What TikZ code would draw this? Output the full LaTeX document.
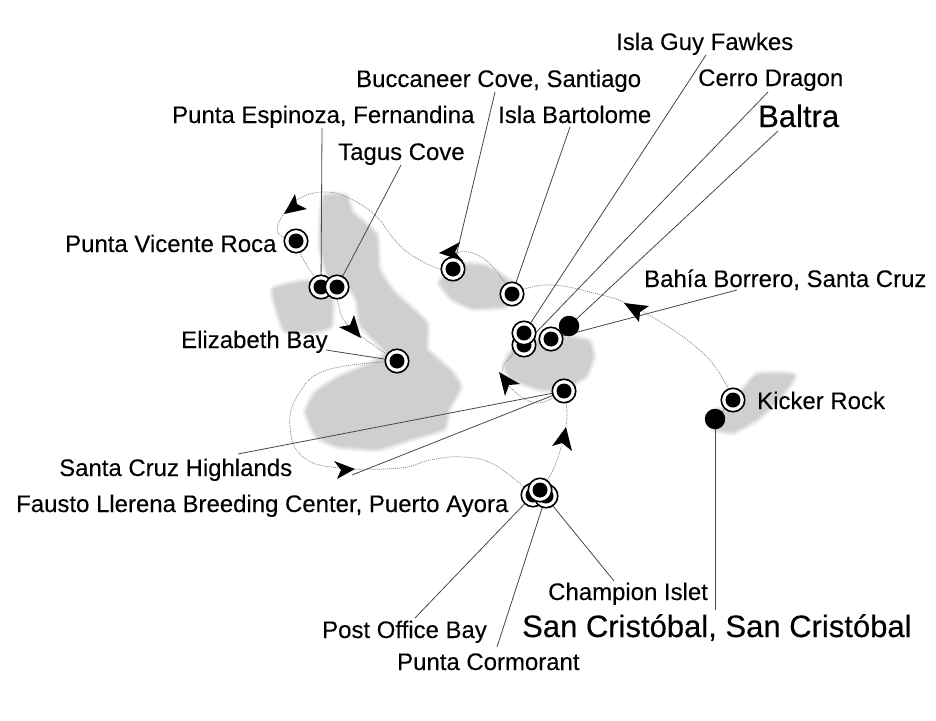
\documentclass[tikz,border=0pt]{standalone}
\usepackage{fontspec}
\setmainfont{Liberation Sans}
\newfontfamily\bigface[FakeBold=0.25]{Liberation Sans}
\newfontfamily\labface[FakeBold=0.08]{Liberation Sans}
\tikzset{
  x=1pt,y=-1pt,
  lab/.style={inner sep=0pt,font=\labface\fontsize{23.95}{26}\selectfont,text=black},
  biglab/.style={inner sep=0pt,font=\bigface\fontsize{31}{33}\selectfont,text=black},
  leader/.style={line width=0.8pt,draw=black!72},
  route/.style={line width=0.7pt,draw=black!50,dash pattern=on 1pt off 1pt},
  ring/.style={circle,draw=black,fill=white,line width=1.6pt,minimum size=23.5pt,inner sep=0pt},
  blackdot/.style={circle,fill=black,minimum size=15pt,inner sep=0pt},
  portdot/.style={circle,fill=black,minimum size=20.5pt,inner sep=0pt},
  headtip/.style={fill=black,draw=none},
}
\definecolor{isl}{HTML}{CFCFCF}
\newcommand{\island}[1]{%
  \foreach \w/\o in {10/.12,8/.18,6/.25,4/.35,2/.5}{%
    \draw[isl,line width=\w pt,opacity=\o,line join=round] plot[smooth cycle,tension=.25] coordinates {#1};}
  \fill[isl] plot[smooth cycle,tension=.25] coordinates {#1};}
\newcommand{\callstop}[3]{\node[ring] (#1) at (#2,#3) {}; \node[blackdot] at (#1) {};}
\begin{document}
\begin{tikzpicture}
\useasboundingbox (0,0) rectangle (936,720);
\fill[white] (0,0) rectangle (936,720);
% islands
\island{(325,197)(345,197)(352,214)(375,235)(378,270)(393,293)(425,323)(426,350)(450,372)(459,387)(447,410)(443,428)(410,438)(377,448)(337,445)(317,435)(307,412)(317,393)(340,378)(373,364)(387,352)(362,325)(358,300)(350,287)(330,277)(322,250)(322,220)}
\island{(274,290)(310,282)(330,287)(330,325)(310,331)(285,329)}
\island{(441,282)(460,265)(487,268)(512,285)(505,305)(473,307)(453,298)}
\island{(509,357)(520,345)(563,338)(588,342)(592,357)(585,375)(563,388)(540,388)(513,378)(506,367)}
\island{(715,412)(730,408)(757,376)(793,376)(779,397)(757,418)(733,431)(715,428)}
% labels
\node[lab,anchor=base west] (guy) at (616,50) {Isla Guy Fawkes};
\node[lab,anchor=base west] (buc) at (356,87) {Buccaneer Cove, Santiago};
\node[lab,anchor=base west] (cer) at (698,86) {Cerro Dragon};
\node[lab,anchor=base west] (bar) at (498,123) {Isla Bartolome};
\node[lab,anchor=base west] (esp) at (172,123) {Punta Espinoza, Fernandina};
\node[biglab,anchor=base west] (bal) at (758,127) {Baltra};
\node[lab,anchor=base west] (tag) at (338,160) {Tagus Cove};
\node[lab,anchor=base west] (vic) at (65,252) {Punta Vicente Roca};
\node[lab,anchor=base west] (bor) at (644,287) {Bahía Borrero, Santa Cruz};
\node[lab,anchor=base west] (eli) at (181,348) {Elizabeth Bay};
\node[lab,anchor=base west] (kic) at (757,409) {Kicker Rock};
\node[lab,anchor=base west] (hig) at (59,476) {Santa Cruz Highlands};
\node[lab,anchor=base west] (fau) at (16,512) {Fausto Llerena Breeding Center, Puerto Ayora};
\node[lab,anchor=base west] (cha) at (548,600) {Champion Islet};
\node[biglab,anchor=base west] (sanc) at (522,637) {San Cristóbal, San Cristóbal};
\node[lab,anchor=base west] (pos) at (322,638) {Post Office Bay};
\node[lab,anchor=base west] (cor) at (397,670) {Punta Cormorant};
% stop centres
\coordinate (mvic) at (296,241);
\coordinate (mesp) at (321,287);
\coordinate (mtag) at (337,287);
\coordinate (meli) at (397,361);
\coordinate (mbuc) at (453,269);
\coordinate (mbar) at (512,294);
\coordinate (mcer) at (524,345);
\coordinate (mguy) at (524,333);
\coordinate (mbor) at (551,339);
\coordinate (mbal) at (569,326);
\coordinate (mhig) at (564,391);
\coordinate (mkic) at (733,400);
\coordinate (msan) at (715,419);
\coordinate (mpos) at (533,495);
\coordinate (mcor) at (546,496);
\coordinate (mcha) at (540,490);
% free ends of leaders
\coordinate (lguy) at (706,55);
\coordinate (lbuc) at (495,92);
\coordinate (lcer) at (768,92);
\coordinate (lbar) at (570,127);
\coordinate (lesp) at (322,128);
\coordinate (lbal) at (778,131);
\coordinate (ltag) at (401,165);
\coordinate (lbor) at (737,290);
\coordinate (leli) at (326,350);
\coordinate (lhig) at (238,454);
\coordinate (lfau) at (352,475);
\coordinate (lcha) at (614,581);
\coordinate (lsan) at (715,610);
\coordinate (lpos) at (415,618);
\coordinate (lcor) at (497,647);
% route
\draw[route] plot[smooth,tension=.7] coordinates {(msan)(mkic)};
\draw[route] plot[smooth,tension=.7] coordinates {(mkic)(705,355)(640,310)(590,292)(545,285)(mbar)};
\draw[route] plot[smooth,tension=.7] coordinates {(mbar)(487,261)(460,252)(mbuc)};
\draw[route] plot[smooth,tension=.7] coordinates {(mbuc)(437,268)(410,254)(393,238)(377,217)(353,200)(327,192)(300,198)(283,215)(278,233)(mvic)};
\draw[route] plot[smooth,tension=.7] coordinates {(mvic)(302,257)(mesp)};
\draw[route] plot[smooth,tension=.7] coordinates {(mtag)(338,303)(350,327)(meli)};
\draw[route] plot[smooth,tension=.7] coordinates {(meli)(327,370)(298,395)(290,427)(303,457)(340,468)(400,468)(430,460)(463,457)(495,465)(mpos)};
\draw[route] plot[smooth,tension=.7] coordinates {(mcha)(553,470)(563,440)(567,415)(mhig)};
\draw[route] plot[smooth,tension=.7] coordinates {(mhig)(537,403)(510,387)(503,367)(mcer)};
% leaders
\foreach \a/\b in {lguy/mguy,lbuc/mbuc,lcer/mcer,lbar/mbar,lesp/mesp,lbal/mbal,ltag/mtag,lbor/mbor,leli/meli,lhig/mhig,lfau/mhig,lcha/mcha,lsan/msan,lpos/mpos,lcor/mcor}
  \draw[leader] (\a) -- (\b);
% arrowheads
\fill[headtip] (284,214)--(295,194)--(297,204)--(307,209)--cycle;
\fill[headtip] (361,338)--(339,327)--(350,325)--(354,315)--cycle;
\fill[headtip] (439,253)--(460,242)--(455,252)--(463,261)--cycle;
\fill[headtip] (355,469)--(334,461)--(341,470)--(337,479)--cycle;
\fill[headtip] (499,372)--(505,396)--(509,385)--(520,384)--cycle;
\fill[headtip] (566,427)--(552,446)--(562,443)--(572,451)--cycle;
\fill[headtip] (624,303)--(649,306)--(640,312)--(639,322)--cycle;
% stops
\callstop{nvic}{296}{241}
\callstop{nesp}{321}{287}
\callstop{ntag}{337}{287}
\callstop{neli}{397}{361}
\callstop{nbuc}{453}{269}
\callstop{nbar}{512}{294}
\callstop{ncer}{524}{345}
\callstop{nguy}{524}{333}
\callstop{nbor}{551}{339}
\callstop{nhig}{564}{391}
\callstop{nkic}{733}{400}
\callstop{npos}{533}{495}
\callstop{ncor}{546}{496}
\callstop{ncha}{540}{490}
\node[portdot] (nbal) at (mbal) {};
\node[portdot] (nsan) at (msan) {};
\end{tikzpicture}
\end{document}
